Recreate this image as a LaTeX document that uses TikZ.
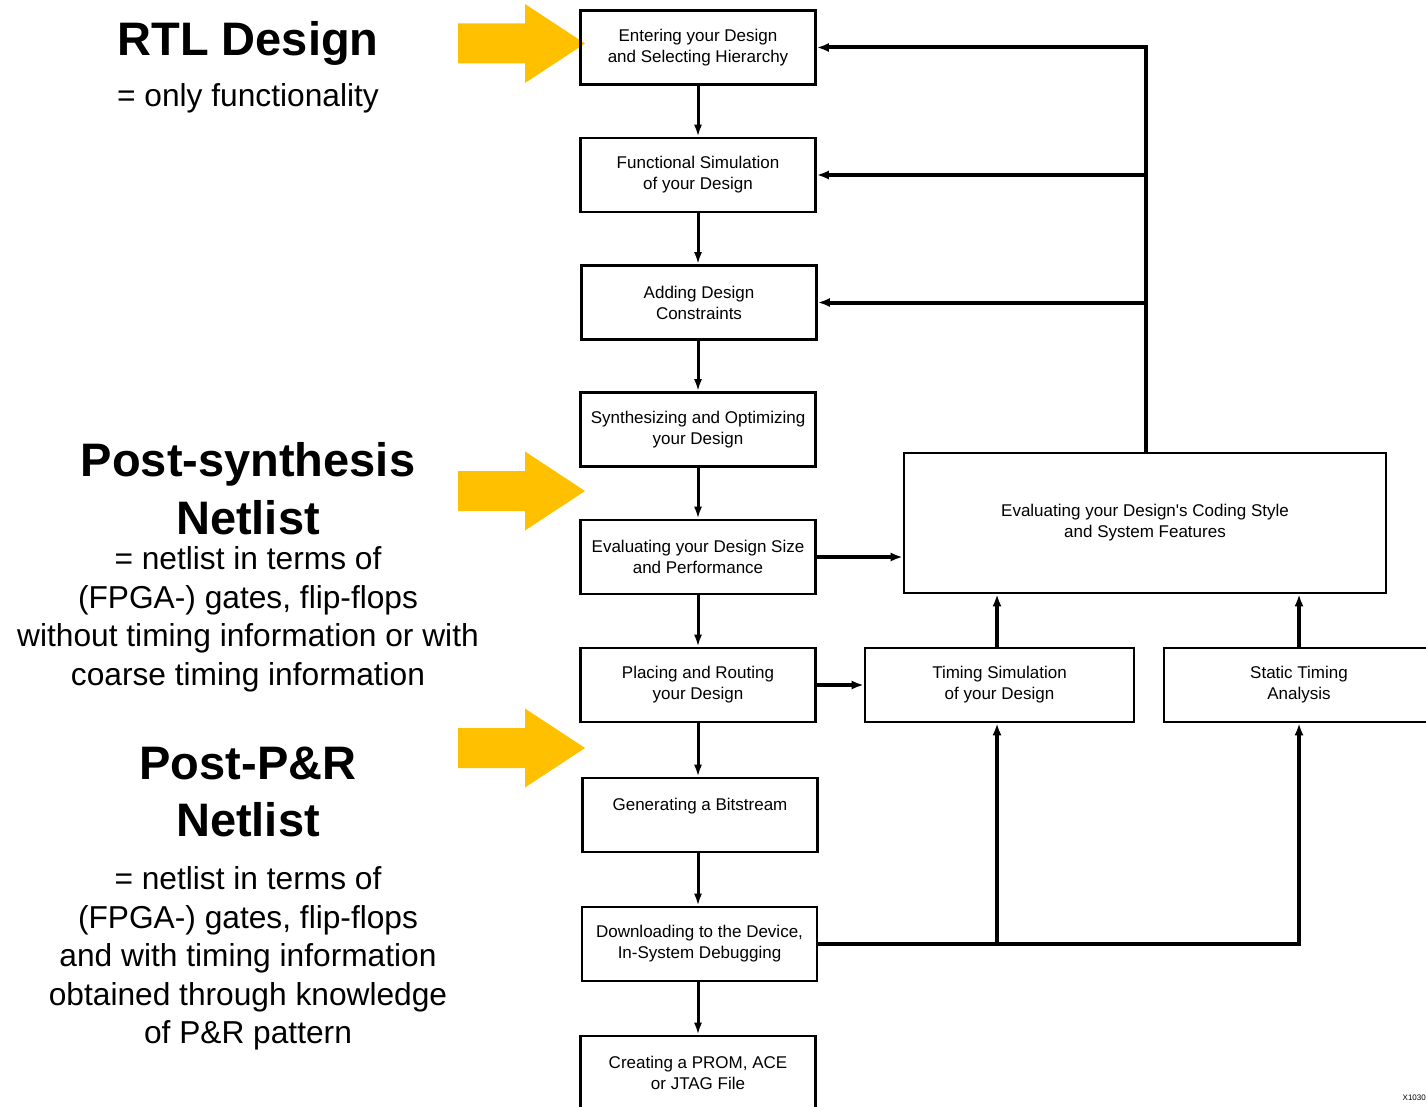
\documentclass[tikz,border=0pt]{standalone}
\usepackage{fontspec}
\setmainfont{Liberation Sans}
\usetikzlibrary{arrows.meta}
\definecolor{hiyellow}{HTML}{FFC000}

\tikzset{
  stepbox/.style={draw, line width=2.6pt, minimum width=235pt, minimum height=74pt,
    inner sep=0pt, align=center, font=\fontsize{17}{21}\selectfont},
  flow/.style={line width=3pt, -{Latex[length=12pt,width=8pt]}},
  bus/.style={line width=4pt},
  busarrow/.style={line width=4pt, -{Latex[length=12pt,width=9pt]}},
  title/.style={font=\fontsize{47}{57.5}\selectfont\bfseries, align=center},
  desc/.style={font=\fontsize{31.7}{38.5}\selectfont, align=center},
}

\begin{document}
\begin{tikzpicture}[x=1pt, y=-1pt]
\useasboundingbox (0,0) rectangle (1426,1107);
\clip (0,0) rectangle (1426,1107);

% yellow stage markers
\foreach \yc in {43.5, 491, 748}
  \fill[hiyellow] (458,\yc-20) -- (525,\yc-20) -- (525,\yc-39.5) -- (585,\yc)
    -- (525,\yc+39.5) -- (525,\yc+20) -- (458,\yc+20) -- cycle;

% left-hand explanations
\node[title] (rtl) at (248,43) {RTL Design};
\node[desc] (rtldesc) at (248,98) {= only functionality};
\node[title] (syn) at (248,488.5) {Post-synthesis\\Netlist};
\node[desc] (syndesc) at (248,619.5) {= netlist in terms of\\(FPGA-) gates, flip-flops\\without timing information or with\\coarse timing information};
\node[title] (pr) at (248,792) {Post-P\&R\\Netlist};
\node[desc] (prdesc) at (248,958.5) {= netlist in terms of\\(FPGA-) gates, flip-flops\\and with timing information\\obtained through knowledge\\of P\&R pattern};

% main design flow
\node[stepbox] (b1) at (698,47.5) {Entering your Design\\and Selecting Hierarchy};
\node[stepbox] (b2) at (698,175) {Functional Simulation\\of your Design};
\node[stepbox] (b3) at (699,302.5) {Adding Design\\Constraints};
\node[stepbox] (b4) at (698,429.5) {Synthesizing and Optimizing\\your Design};
\node[stepbox] (b5) at (698,557) {Evaluating your Design Size\\and Performance};
\node[stepbox] (b6) at (698,685) {Placing and Routing\\your Design};
\node[stepbox] (b7) at (700,815) {Generating a Bitstream\\\mbox{}};
\node[stepbox] (b8) at (699.5,944) {Downloading to the Device,\\In-System Debugging};
\node[stepbox] (b9) at (698,1073) {Creating a PROM, ACE\\or JTAG File};

% verification side
\node[stepbox, minimum width=482pt, minimum height=140pt] (cs) at (1145,523)
  {Evaluating your Design\textquotesingle s Coding Style\\and System Features};
\node[stepbox, minimum width=269pt] (ts) at (999.5,685) {Timing Simulation\\of your Design};
\node[stepbox, minimum width=270pt] (sta) at (1299,685) {Static Timing\\Analysis};

% downward flow
\draw[flow] (b1.south) -- (b1.south |- b2.north);
\draw[flow] (b2.south) -- (b2.south |- b3.north);
\draw[flow] (b3.south -| b2.south) -- (b2.south |- b4.north);
\draw[flow] (b4.south) -- (b4.south |- b5.north);
\draw[flow] (b5.south) -- (b5.south |- b6.north);
\draw[flow] (b6.south) -- (b6.south |- b7.north);
\draw[flow] (b7.south -| b6.south) -- (b6.south |- b8.north);
\draw[flow] (b8.south -| b6.south) -- (b6.south |- b9.north);

% feedback from coding style evaluation
\coordinate (busx) at (1146,0);
\draw[busarrow] (cs.north -| busx) |- (b1.east);
\draw[busarrow] (busx |- b2.east) -- (b2.east);
\draw[busarrow] (busx |- b3.east) -- (b3.east);

% side branches
\draw[busarrow] (b5.east) -- (b5.east -| cs.west);
\draw[busarrow] (b6.east) -- (ts.west);
\coordinate (tsx) at (997,0);
\draw[busarrow] (ts.north -| tsx) -- (cs.south -| tsx);
\draw[busarrow] (sta.north) -- (sta.north |- cs.south);

% in-system debugging feeds the timing analyses
\draw[busarrow] (b8.east) -| (sta.south);
\draw[busarrow] (b8.east -| tsx) -- (ts.south -| tsx);

\node[anchor=east, font=\fontsize{8}{9}\selectfont, inner sep=0pt] (fig) at (1426,1098) {X1030};
\end{tikzpicture}
\end{document}
